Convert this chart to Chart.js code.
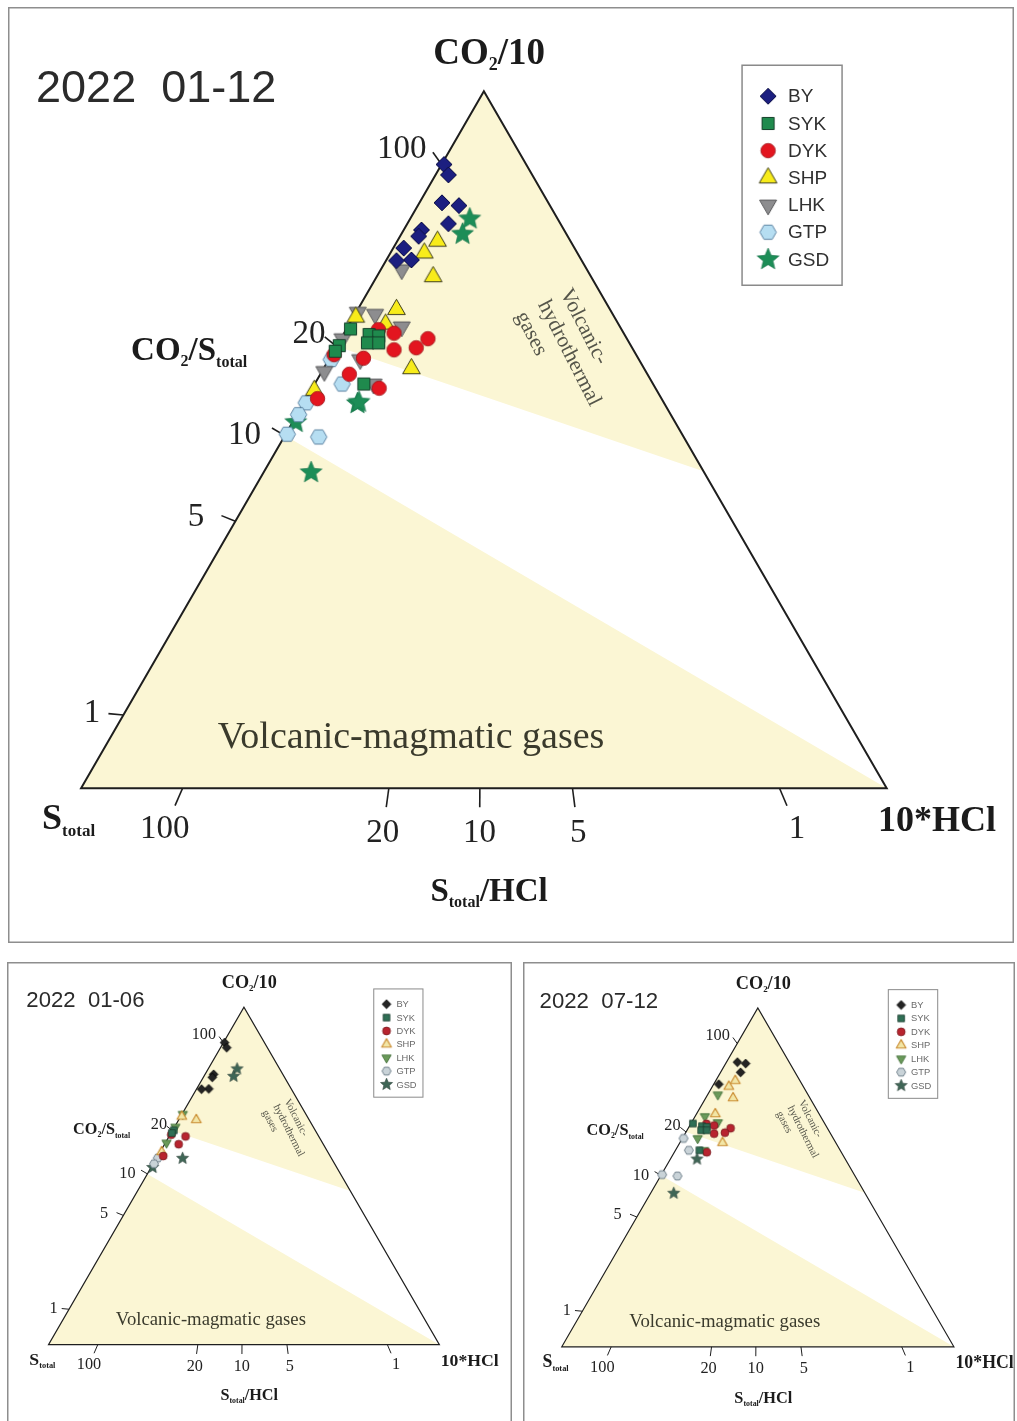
<!DOCTYPE html>
<html>
<head>
<meta charset="utf-8">
<title>CO2/10 – S_total – 10*HCl ternary plots, 2022</title>
<script src="https://cdn.jsdelivr.net/npm/chart.js@4.4.1/dist/chart.umd.min.js"></script>
<style>
  html, body { margin: 0; padding: 0; background: #ffffff; }
  body { width: 1017px; height: 1421px; position: relative; overflow: hidden; }
  canvas { position: absolute; display: block; }
</style>
</head>
<body>
<canvas id="c0" width="1006" height="936" style="left:8px;top:7px;width:1006px;height:936px"></canvas>
<canvas id="c1" width="505" height="459" style="left:7px;top:962px;width:505px;height:459px"></canvas>
<canvas id="c2" width="492" height="459" style="left:523px;top:962px;width:492px;height:459px"></canvas>
<script>
// ---------------------------------------------------------------------------
// Gas compositions, one pair per sample: [CO2/10 share %, 10*HCl share %].
// The S_total share is the remainder to 100 %.  H1 = Jan–Jun, H2 = Jul–Dec.
// ---------------------------------------------------------------------------
const SITES = ['BY', 'SYK', 'DYK', 'SHP', 'LHK', 'GTP', 'GSD'];

const BY_H1  = [[89.5, 0.3], [88.0, 1.6], [80.1, 2.2], [79.2, 2.3], [75.8, 3.1], [75.7, 1.3]];
const BY_H2  = [[84.0, 2.8], [83.6, 5.1], [81.0, 5.1], [77.5, 1.3]];
const SYK_H1 = [[63.5, 0.3], [62.7, 0.2]];
const SYK_H2 = [[65.9, 0.5], [65.1, 3.2], [64.9, 4.5], [63.9, 3.6], [63.9, 5.0], [58.0, 6.1]];
const DYK_H1 = [[62.2, 0.3], [61.7, 4.2], [59.4, 3.6], [55.9, 1.4]];
const DYK_H2 = [[65.8, 4.0], [65.3, 6.2], [64.5, 10.8], [63.2, 10.0], [62.9, 7.4], [57.4, 8.3]];
const SHP_H1 = [[67.6, 0.3], [66.6, 4.5], [57.1, 0.4]];
const SHP_H2 = [[78.5, 5.0], [76.8, 4.2], [73.4, 7.0], [68.7, 4.8], [60.2, 10.9]];
const LHK_H1 = [[68.3, 0.2], [64.5, 0.2], [59.8, 0.3]];
const LHK_H2 = [[74.4, 2.6], [68.0, 2.5], [66.2, 6.7], [61.5, 3.9], [58.0, 7.3]];
const GTP_H1 = [[55.3, 0.3], [53.6, 0.2]];
const GTP_H2 = [[61.5, 0.3], [58.0, 3.4], [50.8, 0.2], [50.4, 4.3]];
const GSD_H1 = [[81.7, 7.4], [79.5, 7.6], [55.2, 6.7], [52.5, 0.4]];
const GSD_H2 = [[55.4, 6.8], [45.3, 5.9]];

// Ratio ticks: CO2/S_total along the S_total–CO2 side (given by CO2/10 share %),
// S_total/HCl along the S_total–HCl side (given by 10*HCl share %).
const LEFT_TICK_LABELS = ['100', '20', '10', '5', '1'];
const LEFT_TICK_CO2    = [89.5, 63.4, 50.6, 38.3, 10.5];
const BASE_TICK_LABELS = ['100', '20', '10', '5', '1'];
const BASE_TICK_HCL    = [12.6, 38.2, 49.5, 61.0, 86.7];

// Field boundaries, vertices as [CO2/10 %, 10*HCl %].
const HYDRO_FIELD = [[100, 0], [63.4, 0], [45.5, 54.5]];
const MAGMA_FIELD = [[0, 0], [50.6, 0], [0, 100]];

const SERIES = {
  BY:  { H1: BY_H1,  H2: BY_H2 },
  SYK: { H1: SYK_H1, H2: SYK_H2 },
  DYK: { H1: DYK_H1, H2: DYK_H2 },
  SHP: { H1: SHP_H1, H2: SHP_H2 },
  LHK: { H1: LHK_H1, H2: LHK_H2 },
  GTP: { H1: GTP_H1, H2: GTP_H2 },
  GSD: { H1: GSD_H1, H2: GSD_H2 }
};

// ---------------------------------------------------------------------------
const SERIF = '"Liberation Serif", "Times New Roman", serif';
const SANS = '"Liberation Sans", Arial, sans-serif';
const FIELD_FILL = '#fbf6d4';
const SQ3_2 = Math.sqrt(3) / 2;

// ternary composition -> unit-triangle cartesian (S_total corner at origin)
function tern(co2, hcl) {
  return { x: hcl / 100 + co2 / 200, y: (co2 / 100) * SQ3_2 };
}

const SHAPES = { BY: 'diamond', SYK: 'square', DYK: 'circle', SHP: 'triUp', LHK: 'triDown', GTP: 'hex', GSD: 'star' };
const SIZES = { diamond: 8, square: 8.4, circle: 7.2, triUp: 10.2, triDown: 9.8, hex: 8.2, star: 11.5 };
const LARGE_LOOK = {
  BY:  ['#1c1f80', '#0d0f45', 1],
  SYK: ['#1f8a4d', '#15402a', 1],
  DYK: ['#e3151f', '#9c1016', 0.8],
  SHP: ['#f8ec1a', '#3d3d1d', 1],
  LHK: ['#8d8d8f', '#58585a', 1],
  GTP: ['#b6def2', '#5d84a3', 1],
  GSD: ['#1d8d57', '#157048', 0.6]
};
const SMALL_LOOK = {
  BY:  ['#242424', '#000000', 0.8],
  SYK: ['#2f6f55', '#1d3d30', 0.8],
  DYK: ['#b8242f', '#7a1a20', 0.8],
  SHP: ['#f2e6a6', '#c98a2e', 1.1],
  LHK: ['#6a9a5a', '#3c6a34', 0.8],
  GTP: ['#c9d3d8', '#6a7b86', 0.9],
  GSD: ['#3f6656', '#2a4038', 0.6]
};

// hand-placed offsets of the CO2/S_total tick labels from their tick points
const LEFT_LABEL_SHIFT = [[-15, -15], [-11, -12], [-24, 0], [-31, -4], [-23, -2]];

function markerCanvas(shape, r, fill, stroke, lw) {
  const pad = Math.ceil(lw) + 2;
  const size = Math.ceil(2 * r + 2 * pad);
  const c = document.createElement('canvas');
  c.width = size; c.height = size;
  const g = c.getContext('2d');
  const cx = size / 2, cy = size / 2;
  const poly = (n, rad, start) => {
    for (let i = 0; i < n; i++) {
      const a = start + i * 2 * Math.PI / n;
      const x = cx + rad * Math.cos(a), y = cy + rad * Math.sin(a);
      if (i === 0) g.moveTo(x, y); else g.lineTo(x, y);
    }
    g.closePath();
  };
  g.beginPath();
  switch (shape) {
    case 'diamond': poly(4, r, -Math.PI / 2); break;
    case 'square': { const h = r * 0.72; g.rect(cx - h, cy - h, 2 * h, 2 * h); break; }
    case 'circle': g.arc(cx, cy, r, 0, 2 * Math.PI); break;
    case 'triUp': poly(3, r, -Math.PI / 2); break;
    case 'triDown': poly(3, r, Math.PI / 2); break;
    case 'hex': poly(6, r, 0); break;
    case 'star':
      for (let i = 0; i < 10; i++) {
        const a = -Math.PI / 2 + i * Math.PI / 5;
        const rad = i % 2 === 0 ? r : r * 0.45;
        const x = cx + rad * Math.cos(a), y = cy + rad * Math.sin(a);
        if (i === 0) g.moveTo(x, y); else g.lineTo(x, y);
      }
      g.closePath();
      break;
  }
  g.fillStyle = fill;
  g.fill();
  if (lw > 0) { g.lineWidth = lw; g.strokeStyle = stroke; g.lineJoin = 'round'; g.stroke(); }
  return c;
}

// text run with mixed sizes (subscripts)
function richText(ctx, parts, x, y, align, k, color) {
  ctx.save();
  ctx.fillStyle = color;
  ctx.textAlign = 'left';
  ctx.textBaseline = 'alphabetic';
  const widths = [];
  let total = 0;
  for (const [t, sz, , wt] of parts) {
    ctx.font = `${wt || 'bold'} ${sz * k}px ${SERIF}`;
    const w = ctx.measureText(t).width;
    widths.push(w); total += w;
  }
  let cx = align === 'center' ? x - total / 2 : (align === 'right' ? x - total : x);
  parts.forEach(([t, sz, dy, wt], i) => {
    ctx.font = `${wt || 'bold'} ${sz * k}px ${SERIF}`;
    ctx.fillText(t, cx, y + (dy || 0) * k);
    cx += widths[i];
  });
  ctx.restore();
}

function framePlugin(panel, markers) {
  return {
    id: 'ternaryFrame' + panel.id,
    beforeDatasetsDraw(chart) {
      const ctx = chart.ctx;
      const sx = chart.scales.x, sy = chart.scales.y;
      const k = panel.side / 817;
      const P = (co2, hcl) => { const p = tern(co2, hcl); return [sx.getPixelForValue(p.x), sy.getPixelForValue(p.y)]; };
      const bl = P(0, 0), br = P(0, 100), top = P(100, 0);
      const at = (dx, dy) => [bl[0] + dx * k, bl[1] + dy * k];

      ctx.save();
      // panel frame
      ctx.strokeStyle = '#8e8e8e';
      ctx.lineWidth = 1.5;
      const W = chart.width, H = chart.height;
      ctx.beginPath();
      if (panel.closed) {
        ctx.rect(0.75, 0.75, W - 1.5, H - 1.5);
      } else {
        ctx.moveTo(0.75, H); ctx.lineTo(0.75, 0.75); ctx.lineTo(W - 0.75, 0.75); ctx.lineTo(W - 0.75, H);
      }
      ctx.stroke();

      // genetic fields
      ctx.fillStyle = FIELD_FILL;
      for (const field of [HYDRO_FIELD, MAGMA_FIELD]) {
        ctx.beginPath();
        field.forEach(([a, c], i) => { const p = P(a, c); if (i === 0) ctx.moveTo(p[0], p[1]); else ctx.lineTo(p[0], p[1]); });
        ctx.closePath();
        ctx.fill();
      }

      // triangle outline
      ctx.strokeStyle = '#1e1e1e';
      ctx.lineWidth = Math.max(1.2, 2 * k);
      ctx.lineJoin = 'miter';
      ctx.beginPath();
      ctx.moveTo(bl[0], bl[1]); ctx.lineTo(br[0], br[1]); ctx.lineTo(top[0], top[1]); ctx.closePath();
      ctx.stroke();

      // ratio ticks (each lies on the line through the opposite corner)
      ctx.lineWidth = Math.max(1, 1.6 * k);
      ctx.fillStyle = '#222';
      ctx.font = `${33 * k}px ${SERIF}`;
      LEFT_TICK_CO2.forEach((v, i) => {
        const p = P(v, 0);
        let dx = p[0] - br[0], dy = p[1] - br[1];
        const n = Math.hypot(dx, dy); dx /= n; dy /= n;
        const o = [p[0] + dx * 15 * k, p[1] + dy * 15 * k];
        ctx.beginPath(); ctx.moveTo(p[0], p[1]); ctx.lineTo(o[0], o[1]); ctx.stroke();
        ctx.textAlign = 'right'; ctx.textBaseline = 'middle';
        const [ox, oy] = LEFT_LABEL_SHIFT[i];
        ctx.fillText(LEFT_TICK_LABELS[i], p[0] + ox * k, p[1] + oy * k);
      });
      BASE_TICK_HCL.forEach((v, i) => {
        const p = P(0, v);
        let dx = p[0] - top[0], dy = p[1] - top[1];
        const n = Math.hypot(dx, dy); dx /= n; dy /= n;
        const o = [p[0] + dx * 19 * k, p[1] + dy * 19 * k];
        ctx.beginPath(); ctx.moveTo(p[0], p[1]); ctx.lineTo(o[0], o[1]); ctx.stroke();
        ctx.textAlign = 'center'; ctx.textBaseline = 'middle';
        ctx.fillText(BASE_TICK_LABELS[i], p[0] + dx * 45 * k, p[1] + dy * 45 * k);
      });

      // corner and axis titles
      const ink = '#1b1b1b';
      let q = at(408, -724);
      richText(ctx, [['CO', 37], ['2', 18, 6], ['/10', 37]], q[0], q[1], 'center', k, ink);
      q = at(50, -428);
      richText(ctx, [['CO', 33], ['2', 16, 6], ['/S', 33], ['total', 16, 7]], q[0], q[1], 'left', k, ink);
      q = at(-39, 41);
      richText(ctx, [['S', 36], ['total', 17, 7]], q[0], q[1], 'left', k, ink);
      q = at(797, 43);
      richText(ctx, [['10*HCl', 36]], q[0], q[1], 'left', k, ink);
      q = at(408, 113);
      richText(ctx, [['S', 33], ['total', 16, 6], ['/HCl', 33]], q[0], q[1], 'center', k, ink);

      // field names
      ctx.fillStyle = '#3a3a2c';
      ctx.font = `${38 * k}px ${SERIF}`;
      ctx.textAlign = 'center'; ctx.textBaseline = 'alphabetic';
      q = at(330, -40);
      ctx.fillText('Volcanic-magmatic gases', q[0], q[1]);

      q = at(484, -498);
      ctx.save();
      ctx.translate(q[0], q[1]);
      ctx.rotate(63 * Math.PI / 180);
      ctx.fillStyle = '#55554a';
      ctx.font = `${21.5 * k}px ${SERIF}`;
      ctx.textAlign = 'left'; ctx.textBaseline = 'middle';
      ['Volcanic-', 'hydrothermal', 'gases'].forEach((t, i) => ctx.fillText(t, 0, i * 25 * k));
      ctx.restore();

      // period title
      ctx.fillStyle = '#2b2b2b';
      ctx.font = `${45 * k}px ${SANS}`;
      ctx.textAlign = 'left'; ctx.textBaseline = 'alphabetic';
      q = at(-45, -686);
      ctx.fillText(panel.title, q[0], q[1]);
      ctx.restore();
    },
    afterDatasetsDraw(chart) {
      const ctx = chart.ctx;
      const k = panel.side / 817;
      const sx = chart.scales.x, sy = chart.scales.y;
      const bl = [sx.getPixelForValue(0), sy.getPixelForValue(0)];
      const bx = bl[0] + 661 * k, by = bl[1] - 723 * k;
      ctx.save();
      ctx.fillStyle = '#ffffff';
      ctx.fillRect(bx, by, 100 * k, 220 * k);
      ctx.strokeStyle = '#8a8a8a';
      ctx.lineWidth = Math.max(1, 1.5 * k);
      ctx.strokeRect(bx, by, 100 * k, 220 * k);
      ctx.font = `${19 * k}px ${SANS}`;
      ctx.fillStyle = panel.big ? '#303030' : '#6a6a6a';
      ctx.textAlign = 'left'; ctx.textBaseline = 'middle';
      SITES.forEach((s, i) => {
        const y = by + (31 + i * 27.2) * k;
        const m = markers[s];
        ctx.drawImage(m, bx + 26 * k - m.width / 2, y - m.height / 2);
        ctx.fillText(s, bx + 46 * k, y + 1 * k);
      });
      ctx.restore();
    }
  };
}

const PANELS = [
  { id: 'c0', title: '2022  01-12', groups: ['H1', 'H2'], big: true,  closed: true,  blx: 67,   bly: 786,   side: 817 },
  { id: 'c1', title: '2022  01-06', groups: ['H1'],       big: false, closed: false, blx: 35.5, bly: 387.5, side: 402 },
  { id: 'c2', title: '2022  07-12', groups: ['H2'],       big: false, closed: false, blx: 32.7, bly: 389.7, side: 403.6 }
];

PANELS.forEach(panel => {
  const canvas = document.getElementById(panel.id);
  const W = canvas.width, H = canvas.height;
  const look = panel.big ? LARGE_LOOK : SMALL_LOOK;
  const markerScale = panel.big ? 1 : 0.55;

  const markers = {};
  SITES.forEach(s => {
    const shape = SHAPES[s];
    const [fill, stroke, lw] = look[s];
    markers[s] = markerCanvas(shape, SIZES[shape] * markerScale, fill, stroke, lw);
  });

  const datasets = SITES.map(s => {
    const pts = [];
    panel.groups.forEach(g => SERIES[s][g].forEach(([co2, hcl]) => pts.push(tern(co2, hcl))));
    return {
      label: s,
      data: pts,
      pointStyle: markers[s],
      pointRadius: 6,
      pointHoverRadius: 6,
      showLine: false
    };
  });

  new Chart(canvas, {
    type: 'scatter',
    data: { datasets },
    options: {
      responsive: false,
      maintainAspectRatio: false,
      animation: false,
      devicePixelRatio: 1,
      events: [],
      layout: { padding: 0 },
      plugins: { legend: { display: false }, tooltip: { enabled: false }, title: { display: false } },
      scales: {
        x: { type: 'linear', display: false, min: -panel.blx / panel.side, max: (W - panel.blx) / panel.side },
        y: { type: 'linear', display: false, min: (panel.bly - H) / panel.side, max: panel.bly / panel.side }
      }
    },
    plugins: [framePlugin(panel, markers)]
  });
});
</script>
</body>
</html>
